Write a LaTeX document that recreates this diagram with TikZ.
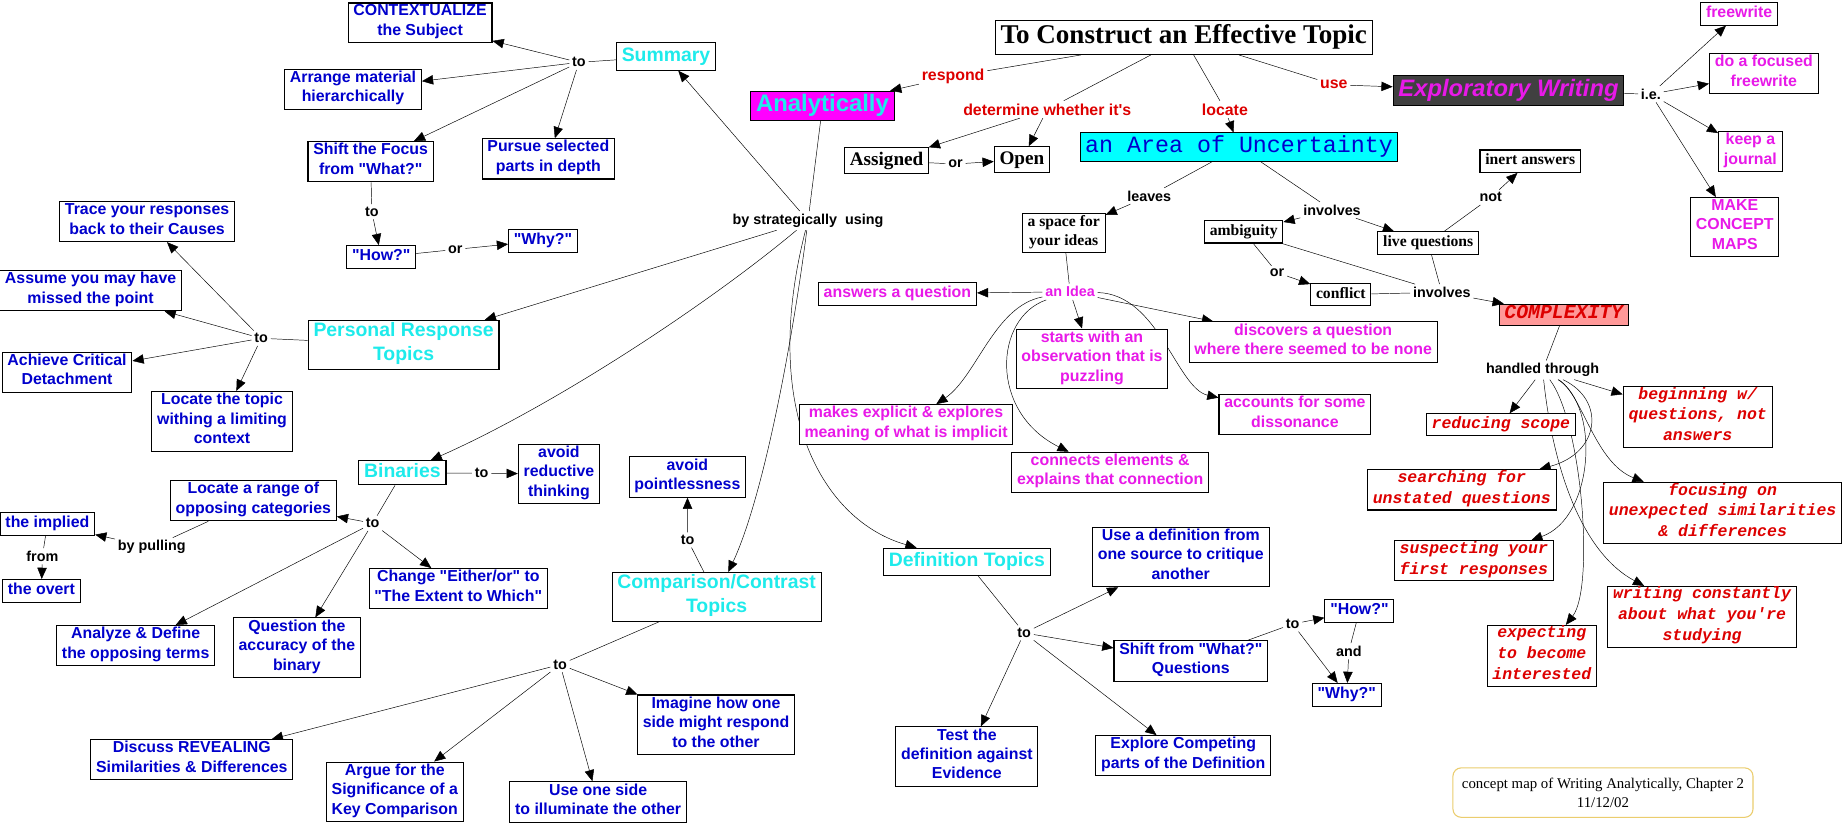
\documentclass[tikz,border=0pt]{standalone}
\usepackage{fontspec}
\setmainfont{Liberation Serif}
\setsansfont{Liberation Sans}
\setmonofont{Liberation Mono}
\usetikzlibrary{arrows.meta}

\definecolor{tblue}{RGB}{0,0,204}
\definecolor{tcyan}{RGB}{30,235,235}
\definecolor{tmag}{RGB}{232,25,232}
\definecolor{tred}{RGB}{221,0,0}
\definecolor{fmag}{RGB}{255,0,255}
\definecolor{fcyan}{RGB}{0,255,255}
\definecolor{fgray}{RGB}{64,64,64}
\definecolor{fpink}{RGB}{255,153,153}
\definecolor{lfoot}{RGB}{235,205,110}

\newcommand{\dq}{\XeTeXglyph\XeTeXcharglyph"22\relax}
\newcommand{\sq}{\XeTeXglyph\XeTeXcharglyph"27\relax}

\pgfdeclarelayer{edges}
\pgfsetlayers{edges,main}

\begin{document}
\begin{tikzpicture}[x=1pt, y=-1pt, line width=0.9pt,
	arr/.style={-{Triangle[length=9.5pt,width=8pt]}},
	box/.style={draw, fill=white, line width=0.9pt, align=center, inner xsep=4.5pt, inner ysep=1.5pt,
		execute at begin node=\strut, execute at end node=\strut},
	bl/.style={box, text=tblue, font=\sffamily\bfseries\fontsize{13.5}{16.5}\selectfont},
	mg/.style={box, text=tmag, font=\sffamily\bfseries\fontsize{13.5}{16.5}\selectfont},
	cy/.style={box, text=tcyan, font=\sffamily\bfseries\fontsize{16.5}{20.4}\selectfont},
	sr/.style={box, font=\rmfamily\bfseries\fontsize{13.3}{16}\selectfont},
	srbig/.style={box, font=\rmfamily\bfseries\fontsize{16.3}{19}\selectfont},
	cr/.style={box, text=tred, inner ysep=0.5pt, font=\ttfamily\bfseries\itshape\fontsize{14}{17.6}\selectfont},
	lbl/.style={inner sep=2pt, font=\sffamily\bfseries\fontsize{12.2}{14}\selectfont},
	rlbl/.style={inner sep=2pt, text=tred, font=\sffamily\bfseries\fontsize{13.5}{16}\selectfont}]

	\useasboundingbox (0,0) rectangle (1568,703);

	\node [box, font=\rmfamily\bfseries\fontsize{23}{25.5}\selectfont] (title) at (1006,32) {To Construct an Effective Topic};
	\node [box, fill=fmag, text=tcyan, font=\sffamily\bfseries\fontsize{20.3}{22}\selectfont] (anly) at (699,90) {Analytically};
	\node [rlbl] (resp) at (810,65) {respond};
	\node [rlbl] (determ) at (890,93) {determine whether it\sq s};
	\node [srbig] (assg) at (753.5,136.6) {Assigned};
	\node [lbl] (orAO) at (812,139.4) {or};
	\node [srbig] (open) at (868.5,135.7) {Open};
	\node [rlbl] (loc) at (1041,93) {locate};
	\node [box, fill=fcyan, text=tblue, inner xsep=3.8pt, font=\ttfamily\fontsize{19.8}{21}\selectfont] (area) at (1053,125) {an Area of Uncertainty};
	\node [rlbl] (use) at (1133.6,72) {use};
	\node [box, fill=fgray, text=tmag, font=\sffamily\bfseries\itshape\fontsize{20.2}{22.4}\selectfont] (expw) at (1282,77.2) {Exploratory Writing};
	\node [lbl] (ie) at (1403,80) {i.e.};
	\node [mg] (fw) at (1478,11.6) {freewrite};
	\node [mg] (ffw) at (1499,62.7) {do a focused\\freewrite};
	\node [mg] (jour) at (1487.6,129) {keep a\\journal};
	\node [mg] (maps) at (1474.3,193) {MAKE\\CONCEPT\\MAPS};

	\node [lbl] (strat) at (686.7,187.5) {by strategically\ \ using};

	\node [cy] (summ) at (566,48) {Summary};
	\node [lbl] (toS) at (492,53) {to};
	\node [bl] (ctx) at (357,19.5) {CONTEXTUALIZE\\the Subject};
	\node [bl] (arrg) at (300,76) {Arrange material\\hierarchically};
	\node [bl] (shf) at (315,137.5) {Shift the Focus\\from \dq What?\dq};
	\node [bl] (purs) at (466,135) {Pursue selected\\parts in depth};
	\node [lbl] (toSF) at (316,180) {to};
	\node [bl] (howA) at (324,218.5) {\dq How?\dq};
	\node [lbl] (orHW) at (387,212) {or};
	\node [bl] (whyA) at (461.5,204.5) {\dq Why?\dq};

	\node [cy] (pers) at (343,293) {Personal Response\\Topics};
	\node [lbl] (toP) at (222,287.5) {to};
	\node [bl] (trace) at (125,188.5) {Trace your responses\\back to their Causes};
	\node [bl] (assume) at (77,247) {Assume you may have\\missed the point};
	\node [bl] (achv) at (57,316.5) {Achieve Critical\\Detachment};
	\node [bl] (loct) at (188.7,358) {Locate the topic\\withing a limiting\\context};

	\node [cy, inner ysep=0pt] (bin) at (342,401.8) {Binaries};
	\node [lbl] (toB1) at (409.3,402.2) {to};
	\node [bl] (avr) at (475,402.8) {avoid\\reductive\\thinking};
	\node [lbl] (toB2) at (316.7,444.7) {to};
	\node [bl] (range) at (215.3,425.5) {Locate a range of\\opposing categories};
	\node [lbl] (pull) at (129,465.1) {by pulling};
	\node [bl] (impl) at (40.3,445.3) {the implied};
	\node [lbl] (from) at (36,472.8) {from};
	\node [bl] (overt) at (35.2,502.2) {the overt};
	\node [bl] (either) at (389.5,500.3) {Change \dq Either/or\dq\ to\\\dq The Extent to Which\dq};
	\node [bl] (qb) at (252.3,550.5) {Question the\\accuracy of the\\binary};
	\node [bl] (anl) at (115.3,548.8) {Analyze \& Define\\the opposing terms};

	\node [cy] (comp) at (609,507.3) {Comparison/Contrast\\Topics};
	\node [lbl] (toC1) at (584.4,458.9) {to};
	\node [bl] (avp) at (584.2,405.4) {avoid\\pointlessness};
	\node [lbl] (toC2) at (476,564.8) {to};
	\node [bl] (disc2) at (163,645.7) {Discuss REVEALING\\Similarities \& Differences};
	\node [bl] (argue) at (335.5,673) {Argue for the\\Significance of a\\Key Comparison};
	\node [bl] (useone) at (508.3,681.5) {Use one side\\to illuminate the other};
	\node [bl] (imag) at (608.5,616) {Imagine how one\\side might respond\\to the other};

	\node [cy] (defn) at (821.7,477.6) {Definition Topics};
	\node [lbl] (toD) at (870.4,537.9) {to};
	\node [bl] (usedef) at (1003.5,473.3) {Use a definition from\\one source to critique\\another};
	\node [bl] (shw) at (1012,561.7) {Shift from \dq What?\dq\\Questions};
	\node [bl] (expl) at (1005.6,642.3) {Explore Competing\\parts of the Definition};
	\node [bl] (test) at (821.7,643.1) {Test the\\definition against\\Evidence};
	\node [lbl] (toD2) at (1098.6,530.3) {to};
	\node [bl] (howB) at (1155.3,519.2) {\dq How?\dq};
	\node [lbl] (andHW) at (1146.3,553.5) {and};
	\node [bl] (whyB) at (1144.6,590.6) {\dq Why?\dq};

	\node [lbl] (leaves) at (976.7,166.6) {leaves};
	\node [sr] (space) at (904,198) {a space for\\your ideas};
	\node [lbl, text=tmag] (idea) at (909.4,248) {an Idea};
	\node [mg] (answ) at (762.7,249.7) {answers a question};
	\node [mg] (starts) at (928,305) {starts with an\\observation that is\\puzzling};
	\node [mg] (disc) at (1116,290.7) {discovers a question\\where there seemed to be none};
	\node [mg] (acc) at (1100.5,352.5) {accounts for some\\dissonance};
	\node [mg] (makes) at (770,361) {makes explicit \& explores\\meaning of what is implicit};
	\node [mg] (conn) at (943.5,401.5) {connects elements \&\\explains that connection};

	\node [lbl] (inv1) at (1132,178.5) {involves};
	\node [sr] (ambig) at (1057,197) {ambiguity};
	\node [sr] (liveq) at (1213.8,206.5) {live questions};
	\node [lbl] (notL) at (1267,167.7) {not};
	\node [sr] (inert) at (1300.5,137) {inert answers};
	\node [lbl] (orAC) at (1085.3,231.7) {or};
	\node [sr] (confl) at (1139.5,250.4) {conflict};
	\node [lbl] (inv2) at (1225.3,248.4) {involves};
	\node [box, fill=fpink, text=tred, inner ysep=0.5pt, font=\ttfamily\bfseries\itshape\fontsize{16.8}{16.8}\selectfont] (cplx) at (1329,267.4) {COMPLEXITY};
	\node [lbl] (hand) at (1311,314.5) {handled through};
	\node [cr] (begw) at (1442.8,354.5) {beginning w/\\questions, not\\answers};
	\node [cr] (red) at (1275.5,361) {reducing scope};
	\node [cr] (search) at (1242.3,416.3) {searching for\\unstated questions};
	\node [cr] (susp) at (1252.5,476.6) {suspecting your\\first responses};
	\node [cr] (expct) at (1310.3,557.3) {expecting\\to become\\interested};
	\node [cr] (focus) at (1464,435.8) {focusing on\\unexpected similarities\\\& differences};
	\node [cr] (wrt) at (1446.5,524.2) {writing constantly\\about what you're\\studying};

	\node [draw=lfoot, rounded corners=7pt, align=center, minimum width=255pt, minimum height=42pt, font=\rmfamily\fontsize{12.6}{16}\selectfont] (foot) at (1362.3,673.6) {concept map of Writing Analytically, Chapter 2\\11/12/02};

	\begin{pgfonlayer}{edges}
	\fill [white] (0,0) rectangle (1568,703);
	\draw (title) -- (resp);
	\draw [arr] (resp) -- (anly);
	\draw (title) -- (determ);
	\draw [arr] (determ) -- (assg);
	\draw [arr] (determ) -- (open);
	\draw (assg) -- (orAO);
	\draw [arr] (orAO) -- (open);
	\draw (title) -- (loc);
	\draw [arr] (loc) -- (area);
	\draw (title) -- (use);
	\draw [arr] (use) -- (expw);
	\draw (expw) -- (ie);
	\draw [arr] (ie) -- (fw);
	\draw [arr] (ie) -- (ffw);
	\draw [arr] (ie) -- (jour);
	\draw [arr] (ie) -- (maps);

	\draw (anly) -- (strat);
	\draw [arr] (strat) -- (summ);
	\draw [arr] (strat) -- (pers);
	\draw [arr] (strat) .. controls (600,260) and (470,345) .. (bin);
	\draw [arr] (strat) .. controls (675,280) and (650,420) .. (comp);
	\draw [arr] (strat) .. controls (645,350) and (700,443) .. (defn);

	\draw (summ) -- (toS);
	\draw [arr] (toS) -- (ctx);
	\draw [arr] (toS) -- (arrg);
	\draw [arr] (toS) -- (shf);
	\draw [arr] (toS) -- (purs);
	\draw (shf) -- (toSF);
	\draw [arr] (toSF) -- (howA);
	\draw (howA) -- (orHW);
	\draw [arr] (orHW) -- (whyA);

	\draw (pers) -- (toP);
	\draw [arr] (toP) -- (trace);
	\draw [arr] (toP) -- (assume);
	\draw [arr] (toP) -- (achv);
	\draw [arr] (toP) -- (loct);

	\draw (bin) -- (toB1);
	\draw [arr] (toB1) -- (avr);
	\draw (bin) -- (toB2);
	\draw [arr] (toB2) -- (range);
	\draw [arr] (toB2) -- (either);
	\draw [arr] (toB2) -- (qb);
	\draw [arr] (toB2) -- (anl);
	\draw (range) -- (pull);
	\draw [arr] (pull) -- (impl);
	\draw (impl) -- (from);
	\draw [arr] (from) -- (overt);

	\draw (comp) -- (toC1);
	\draw [arr] (toC1) -- (avp);
	\draw (comp) -- (toC2);
	\draw [arr] (toC2) -- (disc2);
	\draw [arr] (toC2) -- (argue);
	\draw [arr] (toC2) -- (useone);
	\draw [arr] (toC2) -- (imag);

	\draw (defn) -- (toD);
	\draw [arr] (toD) -- (usedef);
	\draw [arr] (toD) -- (shw);
	\draw [arr] (toD) -- (expl);
	\draw [arr] (toD) -- (test);
	\draw (shw) -- (toD2);
	\draw [arr] (toD2) -- (howB);
	\draw [arr] (toD2) -- (whyB);
	\draw (howB) -- (andHW);
	\draw [arr] (andHW) -- (whyB);

	\draw (area) -- (leaves);
	\draw [arr] (leaves) -- (space);
	\draw (space) -- (idea);
	\draw [arr] (idea) -- (answ);
	\draw [arr] (idea) -- (starts);
	\draw [arr] (idea) -- (disc);
	\draw [arr] (idea) .. controls (985,250) and (1000,330) .. (acc);
	\draw [arr] (idea) .. controls (845,260) and (830,320) .. (makes);
	\draw [arr] (idea) .. controls (845,270) and (840,350) .. (conn);

	\draw (area) -- (inv1);
	\draw [arr] (inv1) -- (ambig);
	\draw [arr] (inv1) -- (liveq);
	\draw (liveq) -- (notL);
	\draw [arr] (notL) -- (inert);
	\draw (ambig) -- (orAC);
	\draw [arr] (orAC) -- (confl);
	\draw (confl) -- (inv2);
	\draw (ambig) -- (inv2);
	\draw (liveq) -- (inv2);
	\draw [arr] (inv2) -- (cplx);
	\draw (cplx) -- (hand);
	\draw [arr] (hand) -- (red);
	\draw [arr] (hand) -- (begw);
	\draw [arr] (hand) .. controls (1320,400) and (1345,470) .. (wrt);
	\draw [arr] (hand) .. controls (1345,335) and (1355,393) .. (focus);
	\draw [arr] (hand) .. controls (1365,340) and (1360,385) .. (search);
	\draw [arr] (hand) .. controls (1360,345) and (1355,440) .. (susp);
	\draw [arr] (hand) .. controls (1345,360) and (1355,500) .. (expct);
	\end{pgfonlayer}
\end{tikzpicture}
\end{document}
